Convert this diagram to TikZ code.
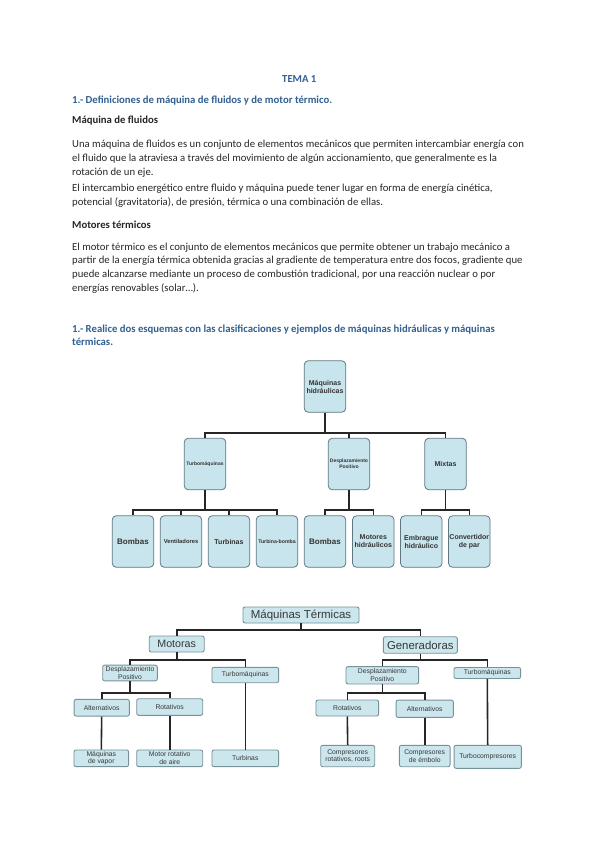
\documentclass[tikz,border=0pt]{standalone}
\usepackage{fontspec}
\setmainfont{Carlito}
\setsansfont{Liberation Sans}
\usetikzlibrary{positioning}
\definecolor{headblue}{RGB}{50,96,146}
\definecolor{bodygray}{RGB}{38,38,38}
\definecolor{hydfill}{RGB}{200,228,236}
\definecolor{hydline}{RGB}{95,120,128}
\definecolor{terfill}{RGB}{204,230,237}
\definecolor{terline}{RGB}{120,146,154}
\definecolor{tertext}{RGB}{55,55,55}

\begin{document}
\begin{tikzpicture}[x=1pt, y=-1pt,
    body/.style={anchor=base west, inner sep=0pt, text=bodygray, font=\fontsize{10.7}{12}\selectfont},
    bodybold/.style={body, font=\fontsize{10.7}{12}\selectfont\bfseries},
    head/.style={body, text=headblue, font=\fontsize{10.7}{12}\selectfont\bfseries},
    hbox/.style={rectangle, draw=hydline, fill=hydfill, rounded corners=4pt, line width=0.8pt,
        minimum width=41.5pt, minimum height=51.5pt, inner sep=0pt, align=center, text=black!80},
    hedge/.style={line width=1.3pt, black!85},
    tbox/.style={rectangle, draw=terline, fill=terfill, rounded corners=2pt, line width=0.9pt,
        inner sep=0pt, align=center, text=tertext, font=\sffamily\fontsize{6.8}{7.6}\selectfont},
    tedge/.style={line width=1.6pt, black!85}
]
    \useasboundingbox[fill=white] (0,0) rectangle (599,848);

    % Text of the page
    \node[head, anchor=base] (tema) at (299.3,82.5) {TEMA 1};
    \node[head] (def) at (72,104) {1.- Definiciones de máquina de fluidos y de motor térmico.};
    \node[bodybold] (mq) at (72,124) {Máquina de fluidos};
    \node[body] (p1a) at (72,147) {Una máquina de fluidos es un conjunto de elementos mecánicos que permiten intercambiar energía con};
    \node[body] (p1b) at (72,161) {el fluido que la atraviesa a través del movimiento de algún accionamiento, que generalmente es la};
    \node[body] (p1c) at (72,175) {rotación de un eje.};
    \node[body] (p2a) at (72,191) {El intercambio energético entre fluido y máquina puede tener lugar en forma de energía cinética,};
    \node[body] (p2b) at (72,205.5) {potencial (gravitatoria), de presión, térmica o una combinación de ellas.};
    \node[bodybold] (mt) at (72,228.5) {Motores térmicos};
    \node[body] (p3a) at (72,250) {El motor térmico es el conjunto de elementos mecánicos que permite obtener un trabajo mecánico a};
    \node[body] (p3b) at (72,263.7) {partir de la energía térmica obtenida gracias al gradiente de temperatura entre dos focos, gradiente que};
    \node[body] (p3c) at (72,277.4) {puede alcanzarse mediante un proceso de combustión tradicional, por una reacción nuclear o por};
    \node[body] (p3d) at (72,291) {energías renovables (solar…).};
    \node[head] (ej1) at (72,332) {1.- Realice dos esquemas con las clasificaciones y ejemplos de máquinas hidráulicas y máquinas};
    \node[head] (ej2) at (72,345.5) {térmicas.};

    % Esquema de maquinas hidraulicas
    \begin{scope}[font=\sffamily\bfseries\fontsize{7}{8}\selectfont]
    \node[hbox] (hroot) at (325,386.5) {Máquinas\\hidráulicas};
    \node[hbox, font=\sffamily\bfseries\fontsize{5}{6}\selectfont] (hturbo) at (205,464) {Turbomáquinas};
    \node[hbox, font=\sffamily\bfseries\fontsize{5}{6}\selectfont] (hdesp) at (349,464) {Desplazamiento\\Positivo};
    \node[hbox] (hmix) at (445.5,464) {Mixtas};
    \node[hbox, font=\sffamily\bfseries\fontsize{8}{9}\selectfont] (hbomb) at (133,541.5) {Bombas};
    \node[hbox, font=\sffamily\bfseries\fontsize{5.8}{6}\selectfont] (hvent) at (181,541.5) {Ventiladores};
    \node[hbox] (hturb) at (229,541.5) {Turbinas};
    \node[hbox, font=\sffamily\bfseries\fontsize{5.2}{6}\selectfont] (htbom) at (277,541.5) {Turbina-bomba};
    \node[hbox, font=\sffamily\bfseries\fontsize{8}{9}\selectfont] (hbomd) at (325,541.5) {Bombas};
    \node[hbox] (hmoth) at (373.3,541.5) {Motores\\hidráulicos};
    \node[hbox] (hembr) at (421.3,541.5) {Embrague\\hidráulico};
    \node[hbox] (hconv) at (469.3,541.5) {Convertidor\\de par};
    \end{scope}
    \coordinate (hbar1) at (0,433);
    \coordinate (hbar2) at (0,510);
    \foreach \c in {hturbo, hdesp, hmix} {
        \draw[hedge] (hroot.south) -- (hroot.south |- hbar1) -| (\c.north);
    }
    \foreach \p/\c in {hturbo/hbomb, hturbo/hvent, hturbo/hturb, hturbo/htbom,
        hdesp/hbomd, hdesp/hmoth, hmix/hembr, hmix/hconv} {
        \draw[hedge] (\p.south) -- (\p.south |- hbar2) -| (\c.north);
    }

    % Esquema de maquinas termicas
    \node[tbox, minimum width=116pt, minimum height=16pt, font=\sffamily\fontsize{11.5}{12}\selectfont] (troot) at (301,615) {Máquinas Térmicas};
    \node[tbox, minimum width=55pt, minimum height=16pt, font=\sffamily\fontsize{10.7}{12}\selectfont] (tmot) at (176.7,644) {Motoras};
    \node[tbox, minimum width=74pt, minimum height=16.5pt, font=\sffamily\fontsize{11.4}{12}\selectfont] (tgen) at (420.3,645) {Generadoras};
    \node[tbox, minimum width=54.6pt, minimum height=15.7pt] (tmdesp) at (130,673) {Desplazamiento\\Positivo};
    \node[tbox, minimum width=66.7pt, minimum height=15.4pt] (tmturbo) at (245.3,675) {Turbomáquinas};
    \node[tbox, minimum width=55.3pt, minimum height=16.7pt] (tmalt) at (101.7,707.7) {Alternativos};
    \node[tbox, minimum width=66pt, minimum height=16.6pt] (tmrot) at (169.7,707) {Rotativos};
    \node[tbox, minimum width=54.7pt, minimum height=16.7pt] (tmvap) at (101.3,758.3) {Máquinas\\de vapor};
    \node[tbox, minimum width=66pt, minimum height=16.7pt] (tmaire) at (169.7,758.3) {Motor rotativo\\de aire};
    \node[tbox, minimum width=66.7pt, minimum height=16.7pt] (tmturb) at (245.3,758.3) {Turbinas};
    \node[tbox, minimum width=72.7pt, minimum height=17.3pt] (tgdesp) at (382.3,675.3) {Desplazamiento\\Positivo};
    \node[tbox, minimum width=66.7pt, minimum height=11pt] (tgturbo) at (487.3,673) {Turbomáquinas};
    \node[tbox, minimum width=62.7pt, minimum height=16pt] (tgrot) at (347.3,708) {Rotativos};
    \node[tbox, minimum width=57.3pt, minimum height=17.3pt] (tgalt) at (424.7,708.7) {Alternativos};
    \node[tbox, minimum width=54pt, minimum height=21.4pt] (tgcrot) at (347.7,756) {Compresores\\rotativos, roots};
    \node[tbox, minimum width=50.7pt, minimum height=21.4pt] (tgcemb) at (424.7,756) {Compresores\\de émbolo};
    \node[tbox, minimum width=67.3pt, minimum height=23pt] (tgtcom) at (487.7,756.8) {Turbocompresores};

    \coordinate (tbar1) at (0,630);
    \coordinate (tbar2) at (0,659.7);
    \coordinate (tbar3) at (0,693.2);
    \foreach \c in {tmot, tgen} {
        \draw[tedge] (troot.south) -- (troot.south |- tbar1) -| (\c.north);
    }
    \foreach \p/\c in {tmot/tmdesp, tmot/tmturbo, tgen/tgdesp, tgen/tgturbo} {
        \draw[tedge] (\p.south) -- (\p.south |- tbar2) -| (\c.north);
    }
    \foreach \p/\c in {tmdesp/tmalt, tmdesp/tmrot, tgdesp/tgrot, tgdesp/tgalt} {
        \draw[tedge] (\p.south) -- (\p.south |- tbar3) -| (\c.north);
    }
    \foreach \p/\c in {tmalt/tmvap, tmrot/tmaire, tmturbo/tmturb, tgrot/tgcrot, tgalt/tgcemb, tgturbo/tgtcom} {
        \draw[tedge] (\p.south) -- (\c.north);
    }
\end{tikzpicture}
\end{document}
